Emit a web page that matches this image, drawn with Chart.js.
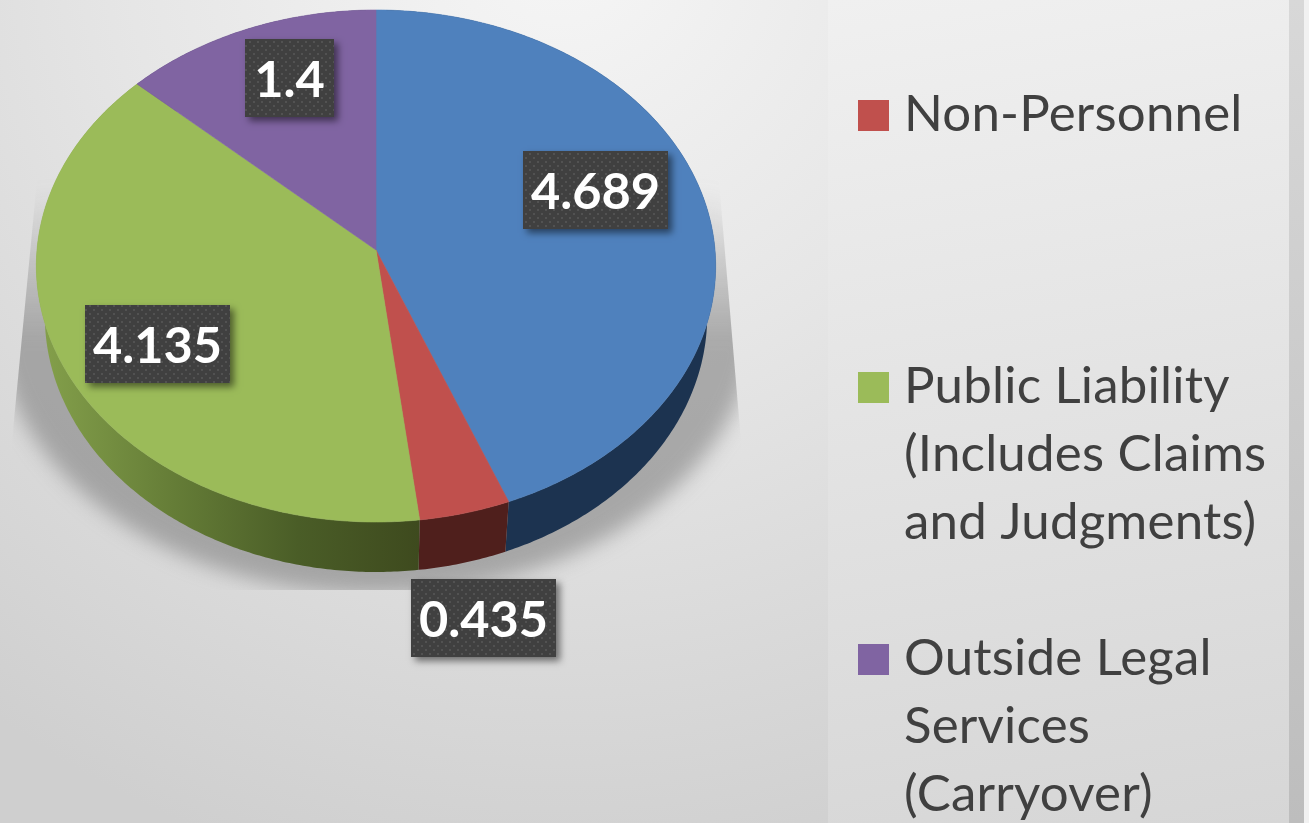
<!DOCTYPE html>
<html>
<head>
<meta charset="utf-8">
<style>
html,body{margin:0;padding:0;width:1309px;height:823px;overflow:hidden;background:#e4e4e4}
#bg{position:absolute;left:0;top:0;width:1309px;height:823px;background:radial-gradient(circle 960px at 560px -60px,#f6f6f6 0%,#e6e6e6 45%,#cfcfcf 100%)}
#panel{position:absolute;left:828px;top:0;width:461px;height:823px;background:linear-gradient(170deg,#f0f0f0 0%,#d6d6d6 100%)}
#strip{position:absolute;left:1289px;top:0;width:15px;height:823px;background:linear-gradient(180deg,#d8d8d8 0%,#bdbdbd 100%)}
#edge{position:absolute;left:1304px;top:0;width:5px;height:823px;background:#f1f1f1}
canvas{position:absolute;left:0;top:0}
</style>
<script src="https://cdn.jsdelivr.net/npm/chart.js@4"></script>
</head>
<body>
<div id="bg"></div><div id="panel"></div><div id="strip"></div><div id="edge"></div>
<canvas id="c" width="1309" height="823"></canvas>
<script>
const categories = ['Personnel', 'Non-Personnel', 'Public Liability (Includes Claims and Judgments)', 'Outside Legal Services (Carryover)'];
const values = [4.689, 0.435, 4.135, 1.4];
const sliceColors = ['#4f81bd', '#c0504d', '#9bbb59', '#8064a2'];
const wallColors = ['#1c3350', '#4f1f1c', null, '#3f2f55'];
const legendLines = [null, ['Non-Personnel'], ['Public Liability', '(Includes Claims', 'and Judgments)'], ['Outside Legal', 'Services', '(Carryover)']];
const legendFirstBaseline = [null, 131, 403, 675];
const labelBoxes = [[523,151,145,78],[411,579,145,78],[85,305,145,78],[245,39,89,78]];

const CX=376, CY=250, RX=339, RY=255, K=0.0625, DEPTH=50, LOWX=0.975;
function project(a, dy, sx){
  const u=Math.cos(a), v=Math.sin(a), w=1-K*v;
  return [CX+(sx||1)*RX*u/w, CY+RY*v/w+(dy||0)];
}
function arcPts(a0,a1,dy,sx){
  const n=Math.max(2,Math.ceil(Math.abs(a1-a0)/0.01)), p=[];
  for(let i=0;i<=n;i++) p.push(project(a0+(a1-a0)*i/n,dy,sx));
  return p;
}
function trace(ctx,pts){ctx.beginPath();pts.forEach((p,i)=>i?ctx.lineTo(p[0],p[1]):ctx.moveTo(p[0],p[1]));ctx.closePath();}

const pie3d = {
  id:'pie3d',
  beforeDatasetDraw(chart){
    const ctx=chart.ctx, arcs=chart.getDatasetMeta(0).data;
    ctx.save();
    ctx.beginPath();
    ctx.moveTo(38,170);ctx.lineTo(718,170);ctx.lineTo(740,430);ctx.lineTo(752,590);
    ctx.lineTo(0,590);ctx.lineTo(14,420);ctx.closePath();ctx.clip();
    ctx.filter='blur(10px)';
    const g=ctx.createLinearGradient(0,190,0,340);
    g.addColorStop(0,'rgba(120,120,120,0)');g.addColorStop(1,'rgba(120,120,120,0.55)');
    ctx.fillStyle=g;
    ctx.beginPath();ctx.ellipse(376,316,380,278,0,0,Math.PI*2);ctx.fill();
    ctx.restore();
    arcs.forEach((el,i)=>{
      const top=arcPts(el.startAngle,el.endAngle,0,1), low=arcPts(el.startAngle,el.endAngle,DEPTH,LOWX).reverse();
      let fill=wallColors[i];
      if(!fill){
        fill=ctx.createLinearGradient(40,0,420,0);
        fill.addColorStop(0,'#84a04b');fill.addColorStop(0.35,'#657d37');
        fill.addColorStop(0.68,'#4a5d27');fill.addColorStop(1,'#3e4a1e');
      }
      ctx.fillStyle=fill;
      trace(ctx,top.concat(low));ctx.fill();
    });
    arcs.forEach((el)=>{
      ctx.fillStyle=el.options.backgroundColor;
      trace(ctx,[[CX,CY]].concat(arcPts(el.startAngle,el.endAngle,0,1)));ctx.fill();
      ctx.strokeStyle=el.options.backgroundColor;ctx.lineWidth=0.6;ctx.stroke();
    });
    return false;
  },
  afterDatasetsDraw(chart){
    const ctx=chart.ctx;
    const t=document.createElement('canvas');t.width=8;t.height=8;
    const tc=t.getContext('2d');tc.fillStyle='#404040';tc.fillRect(0,0,8,8);
    tc.fillStyle='#525252';tc.fillRect(1,1,2,2);tc.fillRect(5,5,2,2);
    const pat=ctx.createPattern(t,'repeat');
    values.forEach((val,i)=>{
      const [x,y,w,h]=labelBoxes[i];
      ctx.save();
      ctx.shadowColor='rgba(0,0,0,0.5)';ctx.shadowBlur=7;ctx.shadowOffsetX=4;ctx.shadowOffsetY=4;
      ctx.fillStyle='#404040';ctx.fillRect(x,y,w,h);
      ctx.restore();
      ctx.fillStyle=pat;ctx.fillRect(x,y,w,h);
      ctx.fillStyle='#ffffff';ctx.font='bold 50.5px Lato';ctx.textAlign='center';ctx.textBaseline='alphabetic';
      ctx.fillText(String(val),x+w/2,y+58);
    });
    ctx.textAlign='left';ctx.font='51px Lato';ctx.letterSpacing='0.2px';
    legendLines.forEach((lines,i)=>{
      if(!lines) return;
      const b=legendFirstBaseline[i];
      ctx.fillStyle=sliceColors[i];ctx.fillRect(858,b-31,31,31);
      ctx.fillStyle='#404040';
      lines.forEach((s,j)=>ctx.fillText(s,904,b+j*68));
    });
    ctx.letterSpacing='0px';
  }
};

new Chart(document.getElementById('c'),{
  type:'pie',
  data:{labels:categories,datasets:[{data:values,backgroundColor:sliceColors,borderWidth:0}]},
  options:{responsive:false,animation:false,plugins:{legend:{display:false},tooltip:{enabled:false}}},
  plugins:[pie3d]
});
</script>
</body>
</html>
